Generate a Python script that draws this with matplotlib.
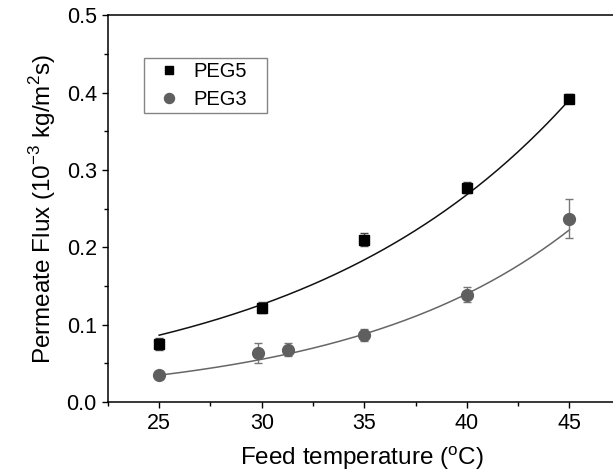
import numpy as np
import matplotlib.pyplot as plt
from matplotlib.ticker import MultipleLocator

plt.rcParams['font.family'] = ['Liberation Sans', 'DejaVu Sans']
plt.rcParams['mathtext.fontset'] = 'custom'
plt.rcParams['mathtext.rm'] = 'Liberation Sans'

# measured flux at each feed temperature
peg5_temp = [25, 30, 35, 40, 45]
peg5_flux = [0.075, 0.122, 0.210, 0.277, 0.392]
peg5_err = [0.008, 0.007, 0.008, 0.007, 0.006]

peg3_temp = [25, 29.8, 31.3, 35, 40, 45]
peg3_flux = [0.035, 0.063, 0.068, 0.087, 0.139, 0.237]
peg3_err = [0.002, 0.013, 0.008, 0.008, 0.010, 0.025]

# exponential fits y = a * exp(b * (T - 25))
peg5_fit = (0.0865, 0.0754)
peg3_fit = (0.0348, 0.0928)

fig = plt.figure(figsize=(6.13, 4.72), dpi=100)
ax = fig.add_axes([0.176, 0.148, 0.83, 0.82])

t = np.linspace(25, 45, 200)
ax.plot(t, peg5_fit[0] * np.exp(peg5_fit[1] * (t - 25)), color='#111111', lw=1.1)
ax.plot(t, peg3_fit[0] * np.exp(peg3_fit[1] * (t - 25)), color='#666666', lw=1.1)

ax.errorbar(peg5_temp, peg5_flux, yerr=peg5_err, fmt='s', color='black',
            ecolor='#444444', elinewidth=1, capsize=3, ms=7.5, label='PEG5')
ax.errorbar(peg3_temp, peg3_flux, yerr=peg3_err, fmt='o', color='#5f5f5f',
            ecolor='#777777', elinewidth=1, capsize=3, ms=8.5, label='PEG3')

ax.set_xlim(22.5, 47.3)
ax.set_ylim(0, 0.5)
ax.xaxis.set_major_locator(MultipleLocator(5))
ax.xaxis.set_minor_locator(MultipleLocator(2.5))
ax.yaxis.set_major_locator(MultipleLocator(0.1))
ax.yaxis.set_minor_locator(MultipleLocator(0.05))
ax.tick_params(which='major', direction='out', length=4.5, width=1, labelsize=15.5)
ax.tick_params(which='minor', direction='out', length=3, width=1)
ax.spines['right'].set_visible(False)
for s in ['left', 'top', 'bottom']:
    ax.spines[s].set_linewidth(1.1)

ax.set_xlabel('Feed temperature ($^{\\mathregular{o}}$C)', fontsize=17.5, labelpad=7)
ax.set_ylabel('Permeate Flux (10$^{\\mathregular{-3}}$ kg/m$^{\\mathregular{2}}$s)',
              fontsize=17.5, labelpad=6)

handles, labels = ax.get_legend_handles_labels()
handles = [h[0] for h in handles]
leg = ax.legend(handles, labels, loc='upper left',
                bbox_to_anchor=(0.071, 0.889, 0.242, 0.0), mode='expand',
                borderaxespad=0, fontsize=14.5, fancybox=False,
                edgecolor='#666666', handletextpad=0.25, handlelength=2.0,
                borderpad=0.22, labelspacing=0.4, markerscale=0.85)
leg.get_frame().set_linewidth(1)

fig.savefig('out.png', dpi=100)
